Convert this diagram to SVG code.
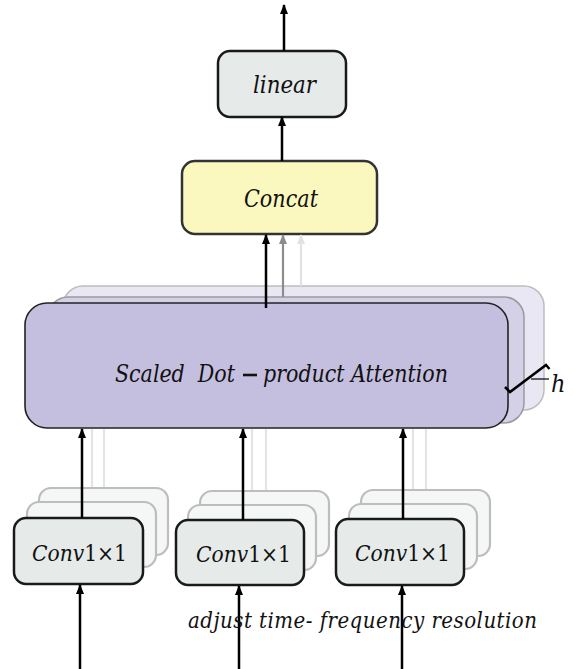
<svg xmlns="http://www.w3.org/2000/svg" width="574" height="669" viewBox="0 0 574 669">
<defs>
<marker id="ah" markerUnits="userSpaceOnUse" markerWidth="10" markerHeight="10" viewBox="0 0 10 10" refX="9" refY="5" orient="auto">
<path d="M0,1 L10,5 L0,9 Z" fill="#000"/>
</marker>
<marker id="ahg" markerUnits="userSpaceOnUse" markerWidth="10" markerHeight="10" viewBox="0 0 10 10" refX="9" refY="5" orient="auto">
<path d="M0,1 L10,5 L0,9 Z" fill="#8c8c8c"/>
</marker>
<marker id="ahl" markerUnits="userSpaceOnUse" markerWidth="10" markerHeight="10" viewBox="0 0 10 10" refX="9" refY="5" orient="auto">
<path d="M0,1 L10,5 L0,9 Z" fill="#e2e2e2"/>
</marker>
</defs>
<style>
.t{font-family:'DejaVu Serif Condensed','DejaVu Serif',serif;fill:#111;}
.it{font-style:italic;}
.box{fill:#e6ebe9;stroke:#1a1a1a;stroke-width:2.5;}
.back{fill:#f5f7f6;stroke:#bdbdbd;stroke-width:2.2;}
.arr{stroke:#000;stroke-width:2.5;fill:none;marker-end:url(#ah);}
.arrg{stroke:#8c8c8c;stroke-width:2.2;fill:none;marker-end:url(#ahg);}
.arrl{stroke:#e2e2e2;stroke-width:2.2;fill:none;marker-end:url(#ahl);}
.ll{stroke:#e4e4e4;stroke-width:2.2;fill:none;}
</style>
<rect width="574" height="669" fill="#fff"/>

<g id="connectors-back">
<line class="ll" x1="92" y1="502" x2="92" y2="429"/>
<line class="ll" x1="104" y1="488" x2="104" y2="429"/>
<line class="ll" x1="252" y1="505" x2="252" y2="429"/>
<line class="ll" x1="266" y1="491" x2="266" y2="429"/>
<line class="ll" x1="413" y1="504" x2="413" y2="429"/>
<line class="ll" x1="426" y1="490" x2="426" y2="429"/>
</g>

<g id="attention">
<rect x="63" y="286" width="481" height="124" rx="20" fill="#e9e7f3" stroke="#bdbdbd" stroke-width="1.5"/>
<rect x="48" y="297" width="476" height="126" rx="20" fill="#d4d0e8" stroke="#9a9a9a" stroke-width="1.5"/>
<rect x="25" y="303" width="483" height="125" rx="22" fill="#c5bfdf" stroke="#222" stroke-width="1.6"/>
<text class="t it" x="115" y="382" font-size="24" textLength="120" lengthAdjust="spacingAndGlyphs" xml:space="preserve">Scaled  Dot</text>
<line x1="243" y1="375" x2="257" y2="375" stroke="#111" stroke-width="2.6"/>
<text class="t it" x="263" y="382" font-size="24" textLength="185" lengthAdjust="spacingAndGlyphs">product Attention</text>
</g>

<g id="h-label">
<polyline points="505,387 510,392 546,365 549.5,369" fill="none" stroke="#000" stroke-width="2.5"/>
<line x1="531" y1="379" x2="549" y2="379" stroke="#000" stroke-width="1.2"/>
<text class="t it" x="551" y="392" font-size="25">h</text>
</g>

<g id="concat">
<rect x="182" y="161" width="195" height="73" rx="13" fill="#fbf8bf" stroke="#333" stroke-width="2.5"/>
<text class="t it" x="244" y="207" font-size="24" textLength="74" lengthAdjust="spacingAndGlyphs">Concat</text>
</g>

<g id="linear">
<rect class="box" x="218" y="51" width="128" height="66" rx="12"/>
<text class="t it" x="253" y="93" font-size="24" textLength="63" lengthAdjust="spacingAndGlyphs">linear</text>
</g>

<g id="conv1">
<rect class="back" x="39" y="488" width="129" height="67" rx="12"/>
<rect class="back" x="27" y="502" width="129" height="65" rx="12"/>
<rect class="box" x="14" y="518" width="129" height="66" rx="12"/>
<text class="t" x="32" y="561" font-size="23" textLength="95" lengthAdjust="spacingAndGlyphs"><tspan font-style="italic">Conv</tspan>1×1</text>
</g>

<g id="conv2">
<rect class="back" x="200" y="491" width="129" height="65" rx="12"/>
<rect class="back" x="188" y="505" width="128" height="65" rx="12"/>
<rect class="box" x="176" y="520" width="128" height="65" rx="12"/>
<text class="t" x="196" y="562" font-size="23" textLength="95" lengthAdjust="spacingAndGlyphs"><tspan font-style="italic">Conv</tspan>1×1</text>
</g>

<g id="conv3">
<rect class="back" x="361" y="490" width="129" height="66" rx="12"/>
<rect class="back" x="349" y="504" width="128" height="65" rx="12"/>
<rect class="box" x="336" y="519" width="128" height="66" rx="12"/>
<text class="t" x="355" y="561" font-size="23" textLength="95" lengthAdjust="spacingAndGlyphs"><tspan font-style="italic">Conv</tspan>1×1</text>
</g>

<g id="connectors">
<line class="arr" x1="284" y1="51" x2="284" y2="5"/>
<line class="arr" x1="282" y1="161" x2="282" y2="117"/>
<line class="arrl" x1="301" y1="286" x2="301" y2="235"/>
<line class="arrg" x1="283" y1="297" x2="283" y2="235"/>
<line class="arr" x1="266" y1="308" x2="266" y2="235"/>
<line class="arr" x1="82" y1="518" x2="82" y2="429"/>
<line class="arr" x1="243" y1="520" x2="243" y2="429"/>
<line class="arr" x1="403" y1="519" x2="403" y2="429"/>
<line class="arr" x1="80" y1="669" x2="80" y2="585"/>
<line class="arr" x1="239" y1="669" x2="239" y2="586"/>
<line class="arr" x1="402" y1="669" x2="402" y2="586"/>
</g>

<g id="caption">
<text class="t it" x="188" y="628" font-size="22" textLength="349" lengthAdjust="spacing">adjust time- frequency resolution</text>
</g>
</svg>
